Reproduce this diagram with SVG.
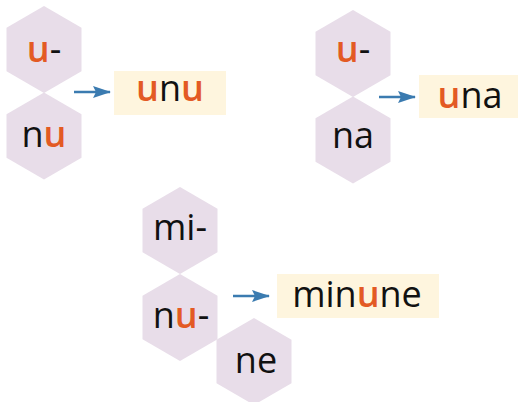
<svg xmlns="http://www.w3.org/2000/svg" width="518" height="402" viewBox="0 0 518 402">
<style>
.hex{fill:#e8dde9}
.box{fill:#fef5de}
.t{font-family:"Open Sans",sans-serif;font-size:36px;fill:#111;text-anchor:middle}
.o{fill:#e35a24;font-weight:600}
.arr{stroke:#3b7bb0;stroke-width:2.5;fill:none}
</style>
<defs>
<polygon id="h" points="0,-43.5 37.5,-21.75 37.5,21.75 0,43.5 -37.5,21.75 -37.5,-21.75"/>
<marker id="ah" viewBox="0 0 18 12" refX="17" refY="6" markerWidth="18" markerHeight="12" markerUnits="userSpaceOnUse" orient="auto">
<path d="M0,0 L18,6 L0,12 L3,6 z" fill="#3b7bb0"/>
</marker>
</defs>
<g id="connectors">
<line class="arr" x1="74" y1="92" x2="110" y2="92" marker-end="url(#ah)"/>
<line class="arr" x1="379" y1="97" x2="415" y2="97" marker-end="url(#ah)"/>
<line class="arr" x1="233" y1="296" x2="269" y2="296" marker-end="url(#ah)"/>
</g>
<g id="hex-u1"><use href="#h" class="hex" x="44" y="49.5"/><text class="t" x="44" y="62"><tspan class="o">u</tspan>-</text></g>
<g id="hex-nu"><use href="#h" class="hex" x="44" y="136"/><text class="t" x="44" y="147">n<tspan class="o">u</tspan></text></g>
<g id="box-unu"><rect class="box" x="114" y="71" width="112" height="44"/><text class="t" x="170" y="101"><tspan class="o">u</tspan>n<tspan class="o">u</tspan></text></g>
<g id="hex-u2"><use href="#h" class="hex" x="353" y="53.5"/><text class="t" x="353" y="62"><tspan class="o">u</tspan>-</text></g>
<g id="hex-na"><use href="#h" class="hex" x="353" y="140"/><text class="t" x="353" y="148">na</text></g>
<g id="box-una"><rect class="box" x="419" y="75" width="99" height="43"/><text class="t" x="470" y="108"><tspan class="o">u</tspan>na</text></g>
<g id="hex-mi"><use href="#h" class="hex" x="180" y="230.5"/><text class="t" x="180" y="240">mi-</text></g>
<g id="hex-nu2"><use href="#h" class="hex" x="180" y="317.5"/><text class="t" x="181" y="328">n<tspan class="o">u</tspan>-</text></g>
<g id="hex-ne"><use href="#h" class="hex" x="254" y="361.5"/><text class="t" x="256" y="373">ne</text></g>
<g id="box-minune"><rect class="box" x="277" y="274" width="162" height="44"/><text class="t" x="357" y="307">min<tspan class="o">u</tspan>ne</text></g>
</svg>
